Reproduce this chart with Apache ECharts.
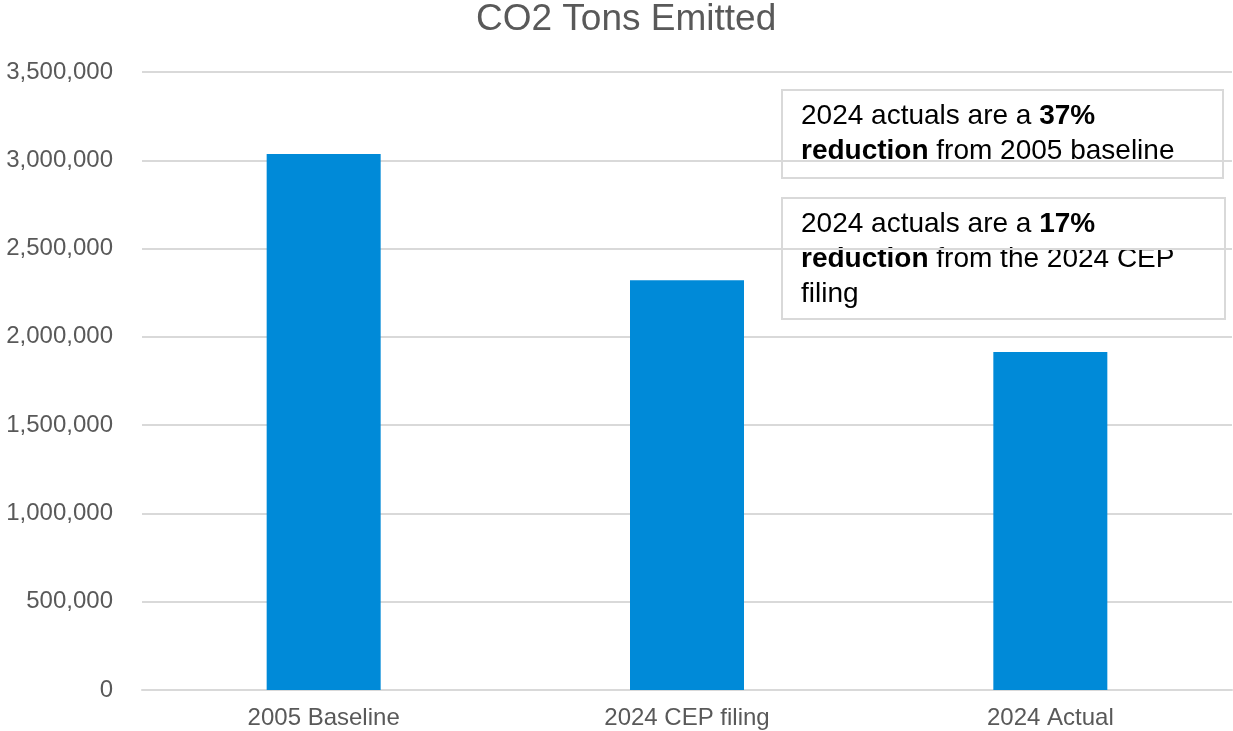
<!DOCTYPE html>
<html>
<head>
<meta charset="utf-8">
<script src="https://cdn.jsdelivr.net/npm/echarts@6/dist/echarts.min.js"></script>
<style>
  html, body { margin: 0; padding: 0; background: #fff; }
  #chart { width: 1233px; height: 731px; }
</style>
</head>
<body>
<div id="chart"></div>
<script>
const categories = ['2005 Baseline', '2024 CEP filing', '2024 Actual'];
const tonsEmitted = [3035000, 2320000, 1914000];
const noteBaseline = ['2024 actuals are a ', '37%', 'reduction', ' from 2005 baseline'];
const noteCep = ['2024 actuals are a ', '17%', 'reduction', ' from the 2024 CEP', 'filing'];

const chart = echarts.init(document.getElementById('chart'));

const font = 'Liberation Sans, Arial, sans-serif';
const richText = {
    n: { fontSize: 28, fontFamily: font, color: '#000', lineHeight: 35 },
    b: { fontSize: 28, fontFamily: font, color: '#000', fontWeight: 'bold', lineHeight: 35 }
};

const noteBox = (x, y, w, h, text) => ({
    type: 'group',
    left: x,
    top: y,
    children: [
        {
            type: 'rect',
            shape: { x: 0, y: 0, width: w, height: h },
            style: { fill: '#fff', stroke: '#d9d9d9', lineWidth: 2 }
        },
        {
            type: 'text',
            x: 19,
            y: 9,
            style: { text: text, rich: richText }
        }
    ]
});

chart.setOption({
    animation: false,
    title: {
        text: 'CO2 Tons Emitted',
        left: 476,
        top: 1,
        padding: 0,
        textStyle: { fontSize: 37, fontWeight: 'normal', color: '#595959', fontFamily: font }
    },
    grid: { left: 142, right: 1, top: 72, bottom: 41, containLabel: false },
    xAxis: {
        type: 'category',
        data: categories,
        axisTick: { show: false },
        axisLine: { lineStyle: { color: '#d9d9d9', width: 2 } },
        axisLabel: { color: '#595959', fontSize: 24, margin: 16, fontFamily: font }
    },
    yAxis: {
        type: 'value',
        min: 0,
        max: 3500000,
        interval: 500000,
        axisLine: { show: false },
        axisTick: { show: false },
        splitLine: { lineStyle: { color: '#d9d9d9', width: 2 } },
        axisLabel: {
            color: '#595959',
            fontSize: 24,
            margin: 29,
            fontFamily: font,
            formatter: v => v.toLocaleString('en-US')
        }
    },
    series: [{
        type: 'bar',
        data: tonsEmitted,
        barWidth: 114,
        itemStyle: { color: '#008ad8' }
    }],
    graphic: [
        noteBox(781, 89, 441, 88,
            '{n|' + noteBaseline[0] + '}{b|' + noteBaseline[1] + '}\n{b|' + noteBaseline[2] + '}{n|' + noteBaseline[3] + '}'),
        noteBox(781, 197, 443, 121,
            '{n|' + noteCep[0] + '}{b|' + noteCep[1] + '}\n{b|' + noteCep[2] + '}{n|' + noteCep[3] + '}\n{n|' + noteCep[4] + '}')
    ]
});

window.addEventListener('resize', () => chart.resize());
</script>
</body>
</html>
